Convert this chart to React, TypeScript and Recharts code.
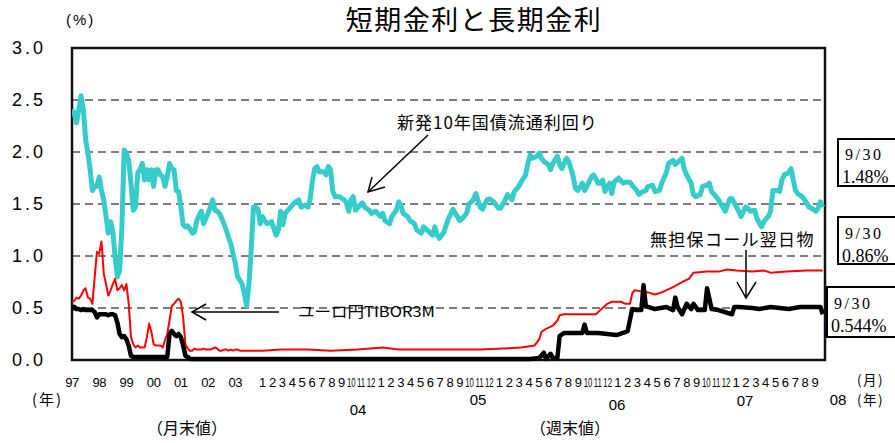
import React from 'react';
import { LineChart, Line, XAxis, YAxis, CartesianGrid, ReferenceArea } from 'recharts';

// ---- axis labels ----
const monthlyYearLabels = ['97', '98', '99', '00', '01', '02', '03'];
const monthNames = ['1', '2', '3', '4', '5', '6', '7', '8', '9', '10', '11', '12'];
const weeklyMonthCount = 57; // Jan 2004 .. Sep 2008
const weeklyYearLabels = ['04', '05', '06', '07', '08'];
const yTicks = [0, 0.5, 1.0, 1.5, 2.0, 2.5, 3.0];

// ---- 新発10年国債流通利回り (monthly 1997-2003) ----
const jgbMonthly = [
  2.41, 2.37, 2.28, 2.41, 2.54, 2.41, 2.12, 1.99, 1.83, 1.63,
  1.67, 1.67, 1.76, 1.63, 1.54, 1.38, 1.22, 1.33, 1.23, 0.99,
  0.80, 0.86, 1.28, 2.02, 1.99, 1.92, 1.70, 1.44, 1.47, 1.80,
  1.83, 1.89, 1.73, 1.83, 1.73, 1.83, 1.67, 1.83, 1.83, 1.78,
  1.76, 1.67, 1.76, 1.89, 1.84, 1.83, 1.63, 1.62, 1.47, 1.30,
  1.28, 1.29, 1.26, 1.22, 1.23, 1.34, 1.39, 1.43, 1.31, 1.36,
  1.41, 1.47, 1.54, 1.44, 1.43, 1.41, 1.36, 1.31, 1.25, 1.18,
  1.12, 1.02, 0.93, 0.80, 0.77, 0.73, 0.64, 0.52, 0.73, 1.06,
  1.47, 1.47, 1.45, 1.31,
];
// weekly 2004-2008 (week index, value)
const jgbWeek = [
  0, 1, 2, 4, 6, 7, 8, 9, 10, 12, 14, 16, 17, 19, 20, 21, 22, 23, 24, 25,
  27, 28, 29, 30, 31, 32, 34, 36, 37, 38, 39, 40, 41, 43, 44, 45, 47, 48, 50, 52,
  53, 54, 56, 57, 59, 60, 61, 62, 64, 65, 67, 68, 70, 71, 72, 74, 75, 76, 77, 78,
  80, 81, 82, 84, 85, 87, 88, 90, 91, 93, 94, 96, 97, 99, 100, 102, 104, 105, 107, 108,
  110, 111, 113, 114, 116, 117, 118, 119, 121, 122, 123, 124, 126, 127, 128, 130, 131, 132, 134, 135,
  136, 137, 138, 139, 141, 142, 143, 145, 146, 148, 149, 150, 151, 153, 154, 155, 157, 159, 160, 162,
  163, 165, 166, 167, 169, 170, 172, 173, 175, 176, 178, 179, 181, 182, 184, 185, 186, 187, 189, 190,
  191, 193, 194, 196, 197, 198, 200, 201, 203, 204, 206, 207, 208, 210, 211, 213, 214, 215, 217, 218,
  220, 221, 223, 224, 225, 227, 228, 229, 230, 232, 233, 234, 235, 236, 238, 239, 241, 242, 244, 245,
  246, 247,
];
const jgbWeekVal = [
  1.38, 1.34, 1.31, 1.33, 1.20, 1.25, 1.43, 1.30, 1.41, 1.46, 1.51, 1.54, 1.47, 1.49, 1.47, 1.55, 1.72, 1.84, 1.86, 1.81,
  1.81, 1.78, 1.86, 1.83, 1.62, 1.57, 1.57, 1.54, 1.51, 1.43, 1.54, 1.57, 1.44, 1.49, 1.51, 1.47, 1.44, 1.41, 1.43, 1.38,
  1.41, 1.34, 1.31, 1.38, 1.44, 1.52, 1.49, 1.41, 1.38, 1.34, 1.31, 1.25, 1.22, 1.28, 1.26, 1.22, 1.20, 1.28, 1.20, 1.17,
  1.23, 1.30, 1.36, 1.45, 1.41, 1.34, 1.36, 1.41, 1.50, 1.54, 1.60, 1.47, 1.45, 1.54, 1.55, 1.52, 1.46, 1.46, 1.54, 1.59,
  1.54, 1.62, 1.67, 1.71, 1.78, 1.89, 1.97, 1.94, 1.96, 1.99, 1.94, 1.91, 1.88, 1.83, 1.89, 1.96, 1.88, 1.84, 1.94, 1.91,
  1.84, 1.76, 1.65, 1.63, 1.70, 1.63, 1.67, 1.76, 1.78, 1.70, 1.70, 1.73, 1.62, 1.70, 1.60, 1.71, 1.75, 1.70, 1.71, 1.71,
  1.68, 1.63, 1.59, 1.61, 1.63, 1.67, 1.68, 1.62, 1.63, 1.70, 1.80, 1.89, 1.92, 1.88, 1.92, 1.94, 1.83, 1.78, 1.70, 1.59,
  1.57, 1.59, 1.67, 1.68, 1.70, 1.62, 1.57, 1.54, 1.47, 1.43, 1.55, 1.55, 1.51, 1.43, 1.38, 1.47, 1.46, 1.43, 1.44, 1.36,
  1.28, 1.33, 1.38, 1.43, 1.63, 1.63, 1.62, 1.73, 1.78, 1.80, 1.84, 1.73, 1.63, 1.60, 1.57, 1.54, 1.47, 1.46, 1.43, 1.46,
  1.52, 1.47,
];

// ---- ユーロ円TIBOR3M ----
const tiborMonthly = [
  0.56, 0.57, 0.60, 0.59, 0.62, 0.67, 0.69, 0.60, 0.59, 0.54,
  0.80, 1.04, 1.02, 1.14, 0.83, 0.73, 0.62, 0.67, 0.73, 0.78,
  0.67, 0.69, 0.72, 0.67, 0.73, 0.54, 0.22, 0.15, 0.12, 0.14,
  0.12, 0.12, 0.12, 0.22, 0.35, 0.27, 0.15, 0.14, 0.14, 0.14,
  0.12, 0.19, 0.25, 0.38, 0.52, 0.54, 0.57, 0.59, 0.56, 0.41,
  0.15, 0.11, 0.09, 0.09, 0.11, 0.10, 0.10, 0.10, 0.11, 0.10,
  0.10, 0.10, 0.11, 0.12, 0.11, 0.09, 0.09, 0.10, 0.10, 0.09,
  0.10, 0.09, 0.10, 0.10, 0.09, 0.09, 0.09, 0.09, 0.09, 0.09,
  0.09, 0.09, 0.09, 0.09,
];
const tiborWeek = [
  0, 8, 20, 30, 42, 53, 60, 72, 84, 96, 106, 114, 120, 122, 123, 125, 128, 130, 131, 133,
  140, 147, 149, 152, 154, 158, 160, 162, 163, 164, 167, 170, 173, 176, 181, 185, 188, 190, 196, 201,
  205, 209, 216, 221, 224, 231, 240, 247,
];
const tiborWeekVal = [
  0.09, 0.10, 0.10, 0.09, 0.10, 0.12, 0.10, 0.10, 0.10, 0.10, 0.11, 0.12, 0.14, 0.20, 0.27, 0.30, 0.33, 0.38, 0.43, 0.44,
  0.44, 0.44, 0.48, 0.54, 0.56, 0.56, 0.54, 0.54, 0.64, 0.67, 0.66, 0.65, 0.63, 0.65, 0.70, 0.75, 0.78, 0.84, 0.85, 0.85,
  0.87, 0.86, 0.85, 0.86, 0.84, 0.85, 0.86, 0.86,
];

// ---- 無担保コール翌日物 ----
const callMonthly = [
  0.49, 0.51, 0.49, 0.49, 0.48, 0.49, 0.48, 0.48, 0.48, 0.48,
  0.46, 0.41, 0.44, 0.44, 0.44, 0.44, 0.43, 0.44, 0.44, 0.43,
  0.36, 0.25, 0.22, 0.23, 0.20, 0.14, 0.04, 0.03, 0.03, 0.03,
  0.03, 0.03, 0.03, 0.03, 0.03, 0.03, 0.03, 0.03, 0.03, 0.03,
  0.03, 0.03, 0.03, 0.25, 0.28, 0.25, 0.23, 0.25, 0.22, 0.14,
  0.04, 0.03, 0.01, 0.01, 0.01, 0.01, 0.01, 0.01, 0.01, 0.01,
  0.01, 0.01, 0.01, 0.01, 0.01, 0.01, 0.01, 0.01, 0.01, 0.01,
  0.01, 0.01, 0.01, 0.01, 0.01, 0.01, 0.01, 0.01, 0.01, 0.01,
  0.01, 0.01, 0.01, 0.01,
];
const callWeek = [
  0, 40, 80, 118, 122, 124, 125, 127, 128, 130, 131, 133, 138, 141, 142, 143, 148, 152, 156, 159,
  161, 163, 165, 167, 168, 169, 170, 173, 178, 181, 182, 183, 185, 187, 189, 190, 192, 195, 196, 198,
  201, 207, 208, 210, 216, 219, 224, 228, 232, 237, 243, 246, 247,
];
const callWeekVal = [
  0.01, 0.01, 0.01, 0.01, 0.02, 0.07, 0.01, 0.06, 0.02, 0.02, 0.23, 0.26, 0.26, 0.26, 0.34, 0.26, 0.26, 0.25, 0.24, 0.26,
  0.28, 0.49, 0.48, 0.48, 0.72, 0.52, 0.51, 0.49, 0.51, 0.48, 0.60, 0.51, 0.44, 0.54, 0.49, 0.54, 0.48, 0.48, 0.69, 0.49,
  0.48, 0.44, 0.51, 0.51, 0.50, 0.49, 0.51, 0.50, 0.49, 0.51, 0.51, 0.51, 0.44,
];

// ---- right-hand value boxes ----
const boxDate = ['9/30', '9/30', '9/30'];
const boxValue = ['1.48%', '0.86%', '0.544%'];

const MONTHS_TOTAL = 84; // observations in the monthly part
const WEEKS_PER_MONTH = 52.18 / 12;

const build = (monthly: number[], weeks: number[], vals: number[]) => [
  ...monthly.map((v, i) => ({ t: i, v })),
  ...weeks.map((w, i) => ({ t: MONTHS_TOTAL + w, v: vals[i] })),
];
const jgbData = build(jgbMonthly, jgbWeek, jgbWeekVal);
const tiborData = build(tiborMonthly, tiborWeek, tiborWeekVal);
const callData = build(callMonthly, callWeek, callWeekVal);

const xTickVals: number[] = [];
const xTickText: string[] = [];
monthlyYearLabels.forEach((l, i) => { xTickVals.push(i * 12); xTickText.push(l); });
for (let m = 0; m < weeklyMonthCount; m++) {
  xTickVals.push(MONTHS_TOTAL + m * WEEKS_PER_MONTH);
  xTickText.push(monthNames[m % 12]);
}
const tickMap = new Map<string, { label: string; weekly: boolean }>();
xTickVals.forEach((v, i) => tickMap.set(v.toFixed(3), { label: xTickText[i], weekly: v >= MONTHS_TOTAL }));

const SANS = '"Liberation Sans", Arial, sans-serif';
const CJK = '"Noto Sans CJK JP", sans-serif';
const SERIF = '"Liberation Serif", "Times New Roman", serif';

const XTick = (props: any) => {
  const { x, y, payload } = props;
  const info = tickMap.get(Number(payload.value).toFixed(3));
  if (!info) return null;
  const squeeze = info.weekly && info.label.length === 2;
  if (squeeze) {
    return (
      <text
        transform={`translate(${x},${y + 25}) scale(0.6,1)`}
        textAnchor="middle"
        fontSize={13}
        fontFamily={SANS}
        fill="#000"
      >
        {info.label}
      </text>
    );
  }
  return (
    <text x={x} y={y + 25} textAnchor="middle" fontSize={13} fontFamily={SANS} fill="#000" letterSpacing={-0.4}>
      {info.label}
    </text>
  );
};

const YTick = (props: any) => {
  const { x, y, payload } = props;
  return (
    <text x={x} y={y + 6} textAnchor="end" fontSize={18} fontFamily={SANS} fill="#000" letterSpacing={3}>
      {Number(payload.value).toFixed(1)}
    </text>
  );
};

const yearTextPos = [
  { x: 358, y: 415 },
  { x: 478, y: 405 },
  { x: 617, y: 410 },
  { x: 745, y: 406 },
  { x: 838, y: 405 },
];

const boxPos = [
  { x: 838, y: 139, h: 47, tx: 845, ty1: 160, ty2: 183 },
  { x: 838, y: 217, h: 47, tx: 845, ty1: 239, ty2: 262 },
  { x: 827, y: 287, h: 50, tx: 834, ty1: 309, ty2: 332 },
];

export default function App() {
  return (
    <div style={{ position: 'absolute', left: 0, top: 0, width: 895, height: 443, background: '#fff' }}>
      <LineChart width={895} height={443} data={jgbData} margin={{ top: 48, right: 70, bottom: 53, left: 0 }}>
        <CartesianGrid horizontal vertical={false} stroke="#000" strokeDasharray="8 5" strokeWidth={1.2} />
        <XAxis
          dataKey="t"
          type="number"
          domain={[0, 332]}
          ticks={xTickVals}
          interval={0}
          tick={<XTick />}
          tickLine={false}
          axisLine={false}
          tickSize={0}
          height={30}
          allowDataOverflow
        />
        <YAxis
          type="number"
          domain={[0, 3]}
          ticks={yTicks}
          interval={0}
          tick={<YTick />}
          tickLine={false}
          axisLine={false}
          tickSize={0}
          tickMargin={26}
          width={72}
        />
        <Line data={jgbData} dataKey="v" type="linear" stroke="#36CCCC" strokeWidth={5} dot={false} isAnimationActive={false} strokeLinejoin="round" />
        <Line data={tiborData} dataKey="v" type="linear" stroke="#FF0000" strokeWidth={2} dot={false} isAnimationActive={false} strokeLinejoin="round" />
        <Line data={callData} dataKey="v" type="linear" stroke="#000" strokeWidth={4.5} dot={false} isAnimationActive={false} strokeLinejoin="round" />
        <ReferenceArea x1={0} x2={332} y1={0} y2={3} fill="none" stroke="#111" strokeWidth={2.5} ifOverflow="visible" />
      </LineChart>
      <svg width={895} height={443} style={{ position: 'absolute', left: 0, top: 0, pointerEvents: 'none' }}>
        <text x={474} y={30} textAnchor="middle" fontSize={27} fontFamily={CJK} fill="#000" letterSpacing={1.5}>
          短期金利と長期金利
        </text>
        <text x={66} y={25} fontSize={15} fontFamily={SANS} fill="#000" letterSpacing={2}>(%)</text>

        {/* annotations */}
        <text x={397} y={129} fontSize={17} fontFamily={CJK} fill="#000" letterSpacing={1}>新発10年国債流通利回り</text>
        <line x1={428} y1={135} x2={368} y2={192} stroke="#000" strokeWidth={1.5} />
        <polyline points="372,177 368,192 385,187" fill="none" stroke="#000" strokeWidth={1.5} />

        <text x={298} y={317} fontSize={15} fontFamily={CJK} fill="#000" textLength={137} lengthAdjust="spacingAndGlyphs">ユーロ円TIBOR3M</text>
        <line x1={279} y1={312} x2={192} y2={312} stroke="#000" strokeWidth={1.5} />
        <polyline points="206,304 192,312 206,320" fill="none" stroke="#000" strokeWidth={1.5} />

        <text x={650} y={246} fontSize={17} fontFamily={CJK} fill="#000" letterSpacing={1.3}>無担保コール翌日物</text>
        <line x1={746} y1={250} x2={746} y2={298} stroke="#000" strokeWidth={1.5} />
        <polyline points="737,282 746,298 756,282" fill="none" stroke="#000" strokeWidth={1.5} />

        {/* value boxes */}
        {boxPos.map((b, i) => (
          <g key={i}>
            <rect x={b.x} y={b.y} width={70} height={b.h} fill="#fff" stroke="#000" strokeWidth={2} />
            <text x={b.tx} y={b.ty1} fontSize={16} fontFamily={SERIF} fill="#000" letterSpacing={2.5}>{boxDate[i]}</text>
            <text x={b.tx - 3} y={b.ty2} fontSize={18} fontFamily={SERIF} fill="#000">{boxValue[i]}</text>
          </g>
        ))}

        {/* year labels of weekly part */}
        {weeklyYearLabels.map((l, i) => (
          <text key={l} x={yearTextPos[i].x} y={yearTextPos[i].y} textAnchor="middle" fontSize={15} fontFamily={SANS} fill="#000">{l}</text>
        ))}
        <text x={32} y={405} fontSize={15} fontFamily={CJK} fill="#000" letterSpacing={2}>(年)</text>
        <text x={857} y={385} fontSize={13.5} fontFamily={CJK} fill="#000" letterSpacing={1.5}>(月)</text>
        <text x={857} y={405} fontSize={13.5} fontFamily={CJK} fill="#000" letterSpacing={1.5}>(年)</text>
        <text x={147} y={434} fontSize={16} fontFamily={CJK} fill="#000">（月末値）</text>
        <text x={530} y={434} fontSize={16} fontFamily={CJK} fill="#000">（週末値）</text>
      </svg>
    </div>
  );
}
